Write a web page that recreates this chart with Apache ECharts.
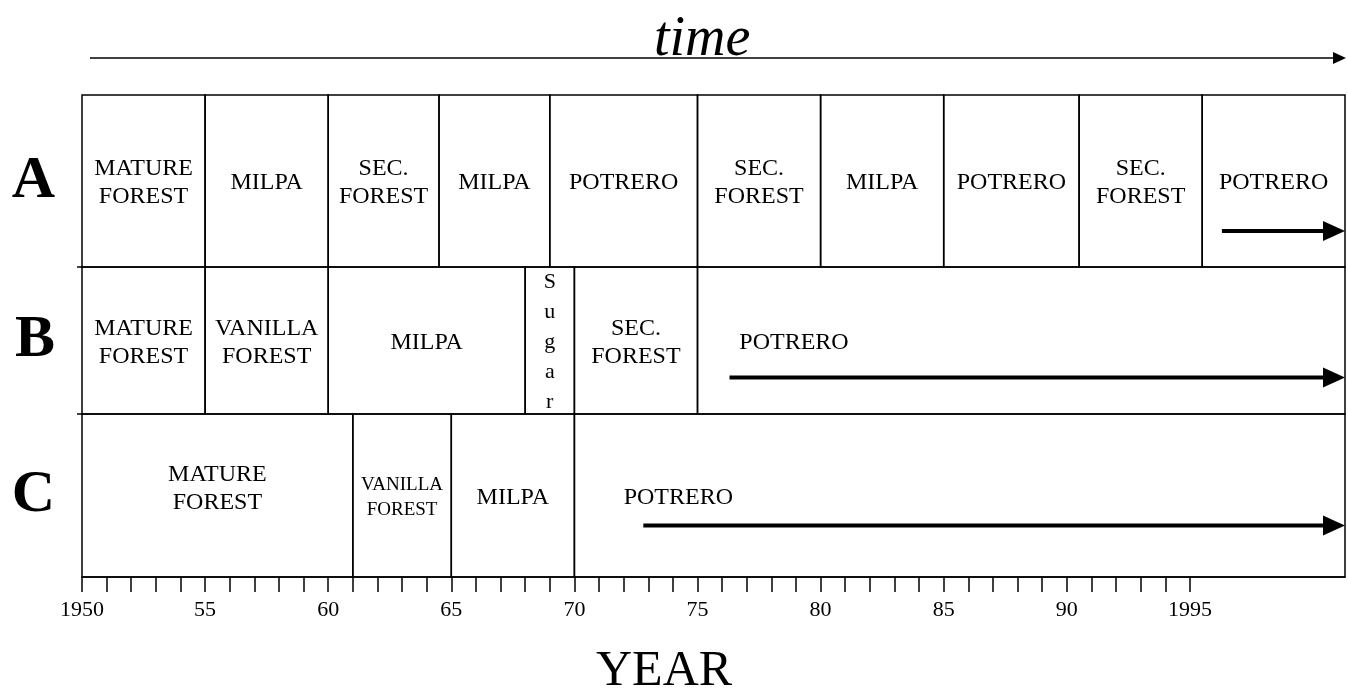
<!DOCTYPE html>
<html>
<head>
<meta charset="utf-8">
<script src="https://cdn.jsdelivr.net/npm/echarts@6/dist/echarts.min.js"></script>
<style>
html,body{margin:0;padding:0;background:#fff}
#main{width:1348px;height:689px}
</style>
</head>
<body>
<div id="main"></div>
<script>
// rows and land-use periods (start years)
var rowNames = ['A', 'B', 'C'];
var xMin = 1950, xMax = 2001.3;

var startsA = [1950, 1955, 1960, 1964.5, 1969, 1975, 1980, 1985, 1990.5, 1995.5];
var labelsA = ['MATURE\nFOREST', 'MILPA', 'SEC.\nFOREST', 'MILPA', 'POTRERO', 'SEC.\nFOREST', 'MILPA', 'POTRERO', 'SEC.\nFOREST', 'POTRERO'];

var startsB = [1950, 1955, 1960, 1968, 1970, 1975];
var labelsB = ['MATURE\nFOREST', 'VANILLA\nFOREST', 'MILPA', 'S\nu\ng\na\nr', 'SEC.\nFOREST', 'POTRERO'];

var startsC = [1950, 1961, 1965, 1970];
var labelsC = ['MATURE\nFOREST', 'VANILLA\nFOREST', 'MILPA', 'POTRERO'];

// continuing land use (arrow start year per row)
var arrowFrom = [1996.3, 1976.3, 1972.8];

// axis ticks / labels
var tickYears = [];
for (var t = 1950; t <= 1995; t++) tickYears.push(t);
var labelYears = [1950, 1955, 1960, 1965, 1970, 1975, 1980, 1985, 1990, 1995];
var tickLabels = ['1950', '55', '60', '65', '70', '75', '80', '85', '90', '1995'];

var allStarts = [startsA, startsB, startsC];
var allLabels = [labelsA, labelsB, labelsC];

// layout only
var rowLayout = [
    {top: 95,  height: 172, arrowDy: 50, leadX: null},
    {top: 267, height: 147, arrowDy: 37, leadX: 1976.7},
    {top: 414, height: 163, arrowDy: 30, leadX: 1972.0}
];
var FONT = '"Liberation Serif", "DejaVu Serif", serif';

function segData(r) {
    var s = allStarts[r], out = [];
    for (var i = 0; i < s.length; i++) {
        out.push([s[i], i + 1 < s.length ? s[i + 1] : xMax, i]);
    }
    return out;
}

function makeSegRender(r) {
    return function (params, api) {
        var s = api.value(0), e = api.value(1), i = api.value(2);
        var p0 = api.coord([s, 0]);
        var p1 = api.coord([e, 0]);
        var h = api.size([0, 1])[1];
        var top = p0[1] - h / 2;
        var txt = allLabels[r][i];
        var last = (i === allStarts[r].length - 1);
        var size = 24, lh = 28;
        if (txt.indexOf('\nu\n') >= 0) { size = 22; lh = 30; }
        if (r === 2 && i === 1) { size = 19; lh = 25; }
        var tx = (p0[0] + p1[0]) / 2, align = 'center', ty = p0[1];
        if (last && rowLayout[r].leadX !== null) {
            tx = api.coord([rowLayout[r].leadX, 0])[0];
            align = 'left';
        }
        if (r === 2 && i === 0) ty = p0[1] - 9;
        var kids = [{
            type: 'rect',
            shape: {x: p0[0], y: top, width: p1[0] - p0[0], height: h},
            style: {fill: 'none', stroke: '#000', lineWidth: 1.5}
        }, {
            type: 'text',
            style: {
                text: txt, x: tx, y: ty + 2, align: align, verticalAlign: 'middle',
                font: size + 'px ' + FONT, lineHeight: lh, fill: '#000'
            }
        }];
        // small stub left of the box at row boundaries
        if (i === 0 && r > 0) {
            kids.push({
                type: 'line',
                shape: {x1: p0[0] - 5, y1: top, x2: p0[0], y2: top},
                style: {stroke: '#000', lineWidth: 1.5}
            });
        }
        return {type: 'group', children: kids};
    };
}

function makeArrowRender(r) {
    return function (params, api) {
        var a = api.coord([api.value(0), 0]);
        var b = api.coord([api.value(1), 0]);
        var y = a[1] + rowLayout[r].arrowDy;
        var headL = 22, headH = 10;
        return {
            type: 'group',
            children: [{
                type: 'line',
                shape: {x1: a[0], y1: y, x2: b[0] - headL + 2, y2: y},
                style: {stroke: '#000', lineWidth: 4}
            }, {
                type: 'polygon',
                shape: {points: [[b[0] - headL, y - headH], [b[0], y], [b[0] - headL, y + headH]]},
                style: {fill: '#000'}
            }]
        };
    };
}

var grids = [], xAxes = [], yAxes = [], series = [];
for (var r = 0; r < 3; r++) {
    grids.push({left: 82, width: 1263, top: rowLayout[r].top, height: rowLayout[r].height,
        outerBoundsMode: 'none', containLabel: false});
    var isBottom = (r === 2);
    xAxes.push({
        type: 'value', gridIndex: r, min: xMin, max: xMax,
        show: true,
        splitLine: {show: false},
        axisLine: {show: isBottom, onZero: false, lineStyle: {color: '#000', width: 1.5}},
        axisTick: {show: isBottom, customValues: tickYears, length: 15, inside: false,
            lineStyle: {color: '#000', width: 1.5}},
        axisLabel: {show: isBottom, customValues: labelYears, margin: 22,
            color: '#000', fontFamily: FONT, fontSize: 22,
            formatter: function (v) {
                var k = labelYears.indexOf(Math.round(v));
                return k >= 0 ? tickLabels[k] : '';
            }}
    });
    yAxes.push({
        type: 'category', gridIndex: r, data: [rowNames[r]],
        axisLine: {show: false}, axisTick: {show: false}, splitLine: {show: false},
        axisLabel: {margin: 27, color: '#000', fontFamily: FONT, fontSize: 60, fontWeight: 'bold',
            padding: [6, 0, 0, 0]}
    });
    series.push({
        type: 'custom', xAxisIndex: r, yAxisIndex: r,
        renderItem: makeSegRender(r),
        encode: {x: [0, 1]},
        data: segData(r),
        silent: true, animation: false
    });
    series.push({
        type: 'custom', xAxisIndex: r, yAxisIndex: r,
        renderItem: makeArrowRender(r),
        encode: {x: [0, 1]},
        data: [[arrowFrom[r], xMax]],
        silent: true, animation: false
    });
}

var chart = echarts.init(document.getElementById('main'));
chart.setOption({
    backgroundColor: '#fff',
    animation: false,
    title: [{
        text: 'time', left: 654, top: 12, padding: 0,
        textStyle: {fontFamily: FONT, fontStyle: 'italic', fontWeight: 'normal', fontSize: 56, color: '#000'}
    }, {
        text: 'YEAR', left: 596, top: 647, padding: 0,
        textStyle: {fontFamily: FONT, fontWeight: 'normal', fontSize: 50, color: '#000'}
    }],
    graphic: [{
        type: 'line', shape: {x1: 90, y1: 58, x2: 1334, y2: 58},
        style: {stroke: '#000', lineWidth: 1.5}
    }, {
        type: 'polygon', shape: {points: [[1333, 52], [1346, 58], [1333, 64]]},
        style: {fill: '#000'}
    }],
    grid: grids,
    xAxis: xAxes,
    yAxis: yAxes,
    series: series
});
</script>
</body>
</html>
